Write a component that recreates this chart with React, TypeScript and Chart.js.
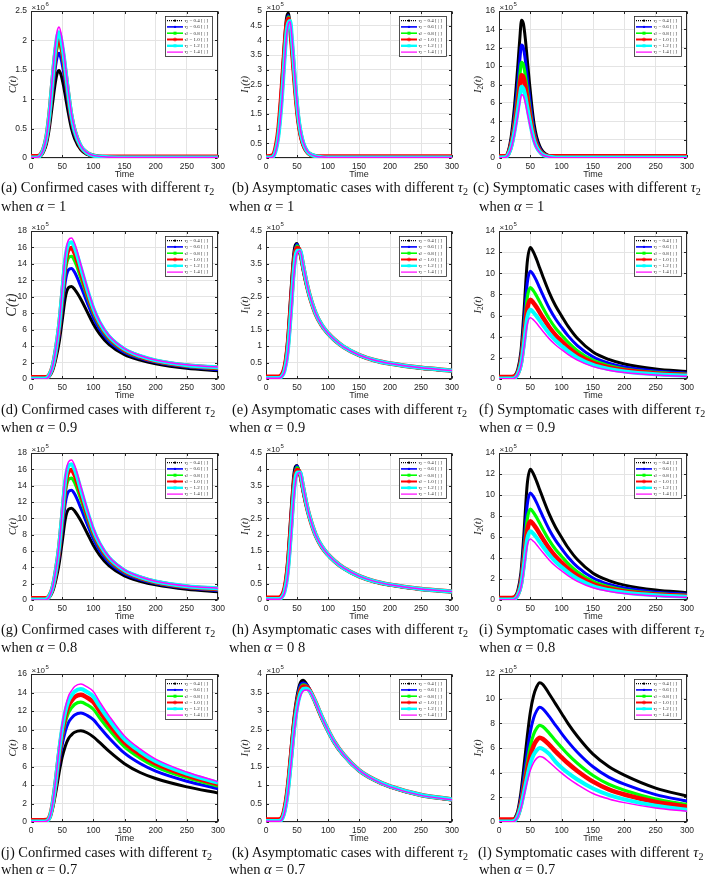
import React, { useEffect, useRef } from "react";
import { Chart, registerables } from "chart.js";

Chart.register(...registerables);

// ---------- time grids ----------
const TIME_ALPHA_1 = [0, 10, 15, 20, 25, 30, 33, 36, 39, 42, 45, 48, 52, 56, 60, 65, 70, 80, 90, 100, 120, 150, 200, 300];
const TIME_ALPHA_09 = [0, 10, 20, 25, 30, 35, 40, 45, 50, 55, 60, 65, 70, 80, 90, 100, 110, 125, 150, 175, 200, 250, 300];
const TIME_ALPHA_07 = [0, 10, 20, 25, 30, 35, 40, 45, 50, 55, 60, 65, 70, 80, 90, 100, 110, 125, 150, 175, 200, 250, 300];

const TAU_LABELS = ["0.4", "0.6", "0.8", "1.0", "1.2", "1.4"];
const X_MAX = 300;
const X_STEP = 50;

// ---------- (a) C(t), alpha = 1, x10^6 ----------
const A_04 = [0.01, 0.01, 0.03, 0.1, 0.25, 0.55, 0.8, 1.05, 1.28, 1.44, 1.49, 1.42, 1.24, 1.0, 0.76, 0.5, 0.33, 0.14, 0.06, 0.03, 0.012, 0.01, 0.01, 0.01];
const A_06 = [0.01, 0.01, 0.035, 0.12, 0.3, 0.66, 0.96, 1.25, 1.53, 1.72, 1.78, 1.7, 1.48, 1.2, 0.91, 0.6, 0.39, 0.17, 0.07, 0.035, 0.014, 0.01, 0.01, 0.01];
const A_08 = [0.01, 0.01, 0.04, 0.13, 0.33, 0.72, 1.05, 1.38, 1.68, 1.89, 1.96, 1.87, 1.63, 1.31, 1.0, 0.66, 0.43, 0.18, 0.08, 0.04, 0.015, 0.01, 0.01, 0.01];
const A_10 = [0.03, 0.03, 0.05, 0.15, 0.36, 0.78, 1.12, 1.46, 1.77, 1.99, 2.06, 1.96, 1.71, 1.38, 1.05, 0.69, 0.46, 0.19, 0.085, 0.04, 0.02, 0.02, 0.02, 0.02];
const A_12 = [0.01, 0.01, 0.045, 0.15, 0.37, 0.8, 1.16, 1.52, 1.84, 2.07, 2.14, 2.04, 1.78, 1.44, 1.09, 0.72, 0.47, 0.2, 0.086, 0.04, 0.017, 0.01, 0.01, 0.01];
const A_14 = [0.01, 0.01, 0.045, 0.15, 0.38, 0.83, 1.2, 1.58, 1.92, 2.16, 2.23, 2.13, 1.86, 1.5, 1.14, 0.75, 0.5, 0.21, 0.09, 0.045, 0.018, 0.01, 0.01, 0.01];

// ---------- (b) I1(t), alpha = 1, x10^5 ----------
const B_04 = [0.03, 0.06, 0.3, 1.0, 2.4, 4.0, 4.75, 4.93, 4.4, 3.6, 2.75, 2.0, 1.2, 0.7, 0.42, 0.22, 0.12, 0.05, 0.03, 0.03, 0.03, 0.03, 0.03, 0.03];
const B_06 = [0.03, 0.05, 0.28, 0.95, 2.25, 3.85, 4.6, 4.85, 4.5, 3.7, 2.85, 2.08, 1.26, 0.74, 0.44, 0.23, 0.12, 0.05, 0.03, 0.03, 0.03, 0.03, 0.03, 0.03];
const B_08 = [0.03, 0.05, 0.25, 0.88, 2.1, 3.7, 4.5, 4.8, 4.55, 3.78, 2.93, 2.15, 1.3, 0.77, 0.46, 0.24, 0.13, 0.05, 0.03, 0.03, 0.03, 0.03, 0.03, 0.03];
const B_10 = [0.05, 0.08, 0.3, 0.95, 2.2, 3.75, 4.5, 4.74, 4.45, 3.72, 2.9, 2.13, 1.3, 0.78, 0.47, 0.25, 0.14, 0.06, 0.05, 0.05, 0.05, 0.05, 0.05, 0.05];
const B_12 = [0.02, 0.03, 0.2, 0.75, 1.85, 3.4, 4.25, 4.6, 4.66, 4.0, 3.15, 2.33, 1.44, 0.86, 0.52, 0.27, 0.15, 0.06, 0.03, 0.02, 0.02, 0.02, 0.02, 0.02];
const B_14 = [0.01, 0.02, 0.17, 0.68, 1.72, 3.25, 4.12, 4.55, 4.64, 4.08, 3.25, 2.42, 1.5, 0.9, 0.55, 0.29, 0.16, 0.06, 0.03, 0.02, 0.02, 0.02, 0.02, 0.02];

// ---------- (c) I2(t), alpha = 1, x10^5 ----------
const C_04 = [0.1, 0.15, 0.8, 2.6, 5.8, 10.0, 12.8, 15.0, 14.6, 13.0, 10.8, 8.6, 5.9, 3.7, 2.3, 1.3, 0.7, 0.25, 0.13, 0.1, 0.1, 0.1, 0.1, 0.1];
const C_06 = [0.1, 0.13, 0.65, 2.13, 4.75, 8.2, 10.5, 12.3, 11.97, 10.66, 8.86, 7.05, 4.84, 3.03, 1.89, 1.07, 0.57, 0.2, 0.11, 0.1, 0.1, 0.1, 0.1, 0.1];
const C_08 = [0.1, 0.12, 0.55, 1.8, 4.02, 6.93, 8.87, 10.4, 10.12, 9.0, 7.48, 5.96, 4.09, 2.56, 1.59, 0.9, 0.49, 0.17, 0.1, 0.1, 0.1, 0.1, 0.1, 0.1];
const C_10 = [0.2, 0.2, 0.5, 1.56, 3.48, 6.0, 7.68, 9.0, 8.76, 7.8, 6.48, 5.16, 3.54, 2.22, 1.38, 0.78, 0.42, 0.2, 0.2, 0.2, 0.2, 0.2, 0.2, 0.2];
const C_12 = [0.05, 0.07, 0.41, 1.34, 3.0, 5.17, 6.62, 7.75, 7.55, 6.72, 5.58, 4.45, 3.05, 1.91, 1.19, 0.67, 0.36, 0.13, 0.06, 0.05, 0.05, 0.05, 0.05, 0.05];
const C_14 = [0.02, 0.05, 0.37, 1.2, 2.67, 4.61, 5.9, 6.92, 6.73, 5.99, 4.98, 3.96, 2.72, 1.71, 1.06, 0.6, 0.32, 0.12, 0.04, 0.02, 0.02, 0.02, 0.02, 0.02];

// ---------- (d)/(g) C(t), alpha = 0.9 / 0.8, x10^5 ----------
const D_04 = [0.1, 0.1, 0.1, 0.15, 0.4, 1.1, 2.5, 4.4, 7.1, 9.9, 11.1, 11.25, 10.9, 9.7, 8.2, 6.7, 5.5, 4.2, 2.95, 2.3, 1.85, 1.3, 1.0];
const D_06 = [0.1, 0.1, 0.1, 0.17, 0.48, 1.31, 2.99, 5.26, 8.48, 11.83, 13.26, 13.44, 12.97, 11.25, 9.31, 7.48, 6.07, 4.61, 3.23, 2.5, 2.02, 1.46, 1.17];
const D_08 = [0.1, 0.1, 0.1, 0.2, 0.53, 1.46, 3.32, 5.84, 9.42, 13.14, 14.73, 14.93, 14.37, 12.3, 10.06, 8.0, 6.46, 4.88, 3.42, 2.64, 2.13, 1.56, 1.28];
const D_10 = [0.2, 0.2, 0.2, 0.22, 0.57, 1.56, 3.54, 6.23, 10.05, 14.02, 15.72, 15.93, 15.32, 13.02, 10.57, 8.36, 6.72, 5.07, 3.54, 2.73, 2.21, 1.63, 1.36];
const D_12 = [0.05, 0.05, 0.05, 0.1, 0.55, 1.63, 3.7, 6.5, 10.49, 14.63, 16.41, 16.63, 16.0, 13.52, 10.93, 8.61, 6.91, 5.2, 3.63, 2.8, 2.26, 1.68, 1.41];
const D_14 = [0, 0, 0, 0.05, 0.5, 1.65, 3.8, 6.7, 10.8, 15.1, 16.9, 17.15, 16.5, 13.9, 11.2, 8.8, 7.05, 5.3, 3.7, 2.85, 2.3, 1.72, 1.45];

// ---------- (e)/(h) I1(t), alpha = 0.9 / 0.8, x10^5 ----------
const E_04 = [0.05, 0.05, 0.05, 0.12, 0.4, 1.2, 2.6, 3.85, 4.12, 3.8, 3.3, 2.87, 2.52, 1.97, 1.62, 1.38, 1.19, 0.97, 0.72, 0.56, 0.46, 0.33, 0.25];
const E_06 = [0.05, 0.05, 0.05, 0.1, 0.36, 1.08, 2.42, 3.72, 4.1, 3.84, 3.34, 2.9, 2.53, 1.98, 1.62, 1.38, 1.19, 0.97, 0.72, 0.56, 0.46, 0.33, 0.25];
const E_08 = [0.05, 0.05, 0.05, 0.1, 0.32, 0.98, 2.25, 3.6, 4.05, 3.87, 3.38, 2.92, 2.54, 1.98, 1.63, 1.38, 1.19, 0.97, 0.72, 0.56, 0.46, 0.33, 0.25];
const E_10 = [0.07, 0.07, 0.07, 0.12, 0.35, 1.0, 2.2, 3.5, 3.98, 3.88, 3.41, 2.94, 2.56, 1.99, 1.63, 1.39, 1.2, 0.98, 0.73, 0.57, 0.47, 0.34, 0.26];
const E_12 = [0.03, 0.03, 0.03, 0.07, 0.26, 0.82, 1.98, 3.3, 3.9, 3.9, 3.44, 2.97, 2.57, 2.0, 1.64, 1.39, 1.2, 0.98, 0.73, 0.57, 0.47, 0.34, 0.26];
const E_14 = [0.02, 0.02, 0.02, 0.06, 0.22, 0.72, 1.82, 3.15, 3.82, 3.9, 3.47, 2.99, 2.58, 2.0, 1.64, 1.39, 1.2, 0.98, 0.73, 0.57, 0.47, 0.34, 0.26];

// ---------- (f)/(i) I2(t), alpha = 0.9 / 0.8, x10^5 ----------
const F_04 = [0.15, 0.15, 0.15, 0.3, 0.9, 2.6, 6.5, 11.0, 12.45, 12.0, 11.3, 10.5, 9.7, 8.2, 6.95, 5.95, 5.0, 3.85, 2.55, 1.85, 1.42, 0.95, 0.7];
const F_06 = [0.12, 0.12, 0.12, 0.25, 0.74, 2.13, 5.33, 9.02, 10.2, 9.84, 9.27, 8.61, 7.95, 6.72, 5.7, 4.88, 4.1, 3.16, 2.09, 1.5, 1.14, 0.75, 0.55];
const F_08 = [0.1, 0.1, 0.1, 0.21, 0.63, 1.81, 4.52, 7.65, 8.65, 8.34, 7.85, 7.3, 6.74, 5.7, 4.83, 4.14, 3.48, 2.68, 1.77, 1.27, 0.95, 0.62, 0.45];
const F_10 = [0.2, 0.2, 0.2, 0.25, 0.54, 1.56, 3.9, 6.6, 7.5, 7.2, 6.78, 6.3, 5.82, 4.92, 4.17, 3.57, 3.0, 2.31, 1.52, 1.09, 0.82, 0.53, 0.38];
const F_12 = [0.05, 0.05, 0.05, 0.1, 0.47, 1.37, 3.42, 5.79, 6.55, 6.31, 5.94, 5.52, 5.1, 4.31, 3.66, 3.13, 2.63, 2.02, 1.33, 0.95, 0.71, 0.45, 0.32];
const F_14 = [0.02, 0.02, 0.02, 0.08, 0.42, 1.21, 3.03, 5.13, 5.8, 5.59, 5.27, 4.89, 4.52, 3.82, 3.24, 2.77, 2.33, 1.78, 1.17, 0.83, 0.62, 0.38, 0.25];

// ---------- (j) C(t), alpha = 0.7, x10^5 ----------
const J_04 = [0.1, 0.1, 0.1, 0.15, 0.5, 1.6, 3.3, 5.3, 7.0, 8.2, 9.0, 9.42, 9.7, 9.86, 9.65, 9.2, 8.6, 7.65, 6.3, 5.35, 4.7, 3.8, 3.14];
const J_06 = [0.1, 0.1, 0.1, 0.15, 0.5, 1.79, 3.87, 6.29, 8.33, 9.8, 10.75, 11.23, 11.58, 11.79, 11.53, 11.06, 10.27, 9.11, 7.44, 6.32, 5.5, 4.41, 3.6];
const J_08 = [0.1, 0.1, 0.1, 0.15, 0.5, 1.91, 4.22, 6.89, 9.14, 10.76, 11.81, 12.34, 12.72, 12.95, 12.67, 12.19, 11.28, 10.0, 8.13, 6.91, 5.98, 4.78, 3.88];
const J_10 = [0.2, 0.2, 0.2, 0.22, 0.55, 1.99, 4.46, 7.3, 9.7, 11.43, 12.54, 13.1, 13.51, 13.76, 13.46, 12.97, 11.99, 10.61, 8.61, 7.31, 6.32, 5.03, 4.08];
const J_12 = [0.05, 0.05, 0.05, 0.1, 0.5, 2.05, 4.64, 7.61, 10.12, 11.94, 13.09, 13.68, 14.11, 14.37, 14.06, 13.56, 12.52, 11.08, 8.97, 7.62, 6.57, 5.22, 4.23];
const J_14 = [0.02, 0.02, 0.02, 0.08, 0.5, 2.1, 4.8, 7.9, 10.5, 12.4, 13.6, 14.2, 14.65, 14.93, 14.6, 14.1, 13.0, 11.5, 9.3, 7.9, 6.8, 5.4, 4.36];

// ---------- (k) I1(t), alpha = 0.7, x10^5 ----------
const K_04 = [0.05, 0.05, 0.05, 0.1, 0.4, 1.0, 1.9, 2.8, 3.4, 3.75, 3.83, 3.74, 3.6, 3.2, 2.8, 2.45, 2.15, 1.8, 1.39, 1.13, 0.95, 0.72, 0.6];
const K_06 = [0.05, 0.05, 0.05, 0.09, 0.37, 0.95, 1.82, 2.7, 3.32, 3.68, 3.76, 3.72, 3.6, 3.21, 2.81, 2.46, 2.15, 1.8, 1.39, 1.13, 0.95, 0.72, 0.6];
const K_08 = [0.05, 0.05, 0.05, 0.08, 0.34, 0.9, 1.75, 2.62, 3.25, 3.6, 3.71, 3.68, 3.58, 3.22, 2.82, 2.47, 2.16, 1.81, 1.39, 1.13, 0.95, 0.72, 0.6];
const K_10 = [0.07, 0.07, 0.07, 0.1, 0.36, 0.9, 1.72, 2.57, 3.18, 3.53, 3.66, 3.65, 3.57, 3.23, 2.83, 2.48, 2.17, 1.82, 1.4, 1.14, 0.96, 0.73, 0.61];
const K_12 = [0.03, 0.03, 0.03, 0.06, 0.28, 0.78, 1.58, 2.45, 3.08, 3.45, 3.6, 3.61, 3.55, 3.23, 2.84, 2.48, 2.17, 1.82, 1.4, 1.14, 0.96, 0.73, 0.61];
const K_14 = [0.02, 0.02, 0.02, 0.05, 0.25, 0.72, 1.5, 2.35, 2.98, 3.38, 3.54, 3.57, 3.54, 3.22, 2.83, 2.48, 2.17, 1.82, 1.4, 1.13, 0.95, 0.72, 0.6];

// ---------- (l) I2(t), alpha = 0.7, x10^5 ----------
const L_04 = [0.15, 0.15, 0.15, 0.3, 0.9, 2.4, 4.6, 6.9, 8.9, 10.2, 10.95, 11.3, 11.15, 10.4, 9.6, 8.8, 8.0, 6.95, 5.5, 4.5, 3.8, 2.75, 2.1];
const L_06 = [0.12, 0.12, 0.12, 0.25, 0.74, 1.98, 3.79, 5.68, 7.32, 8.39, 9.01, 9.3, 9.18, 8.56, 7.86, 7.17, 6.52, 5.66, 4.48, 3.64, 3.07, 2.22, 1.69];
const L_08 = [0.1, 0.1, 0.1, 0.21, 0.62, 1.66, 3.19, 4.78, 6.17, 7.07, 7.59, 7.83, 7.73, 7.21, 6.6, 6.03, 5.48, 4.76, 3.77, 3.06, 2.58, 1.87, 1.42];
const L_10 = [0.2, 0.2, 0.2, 0.22, 0.54, 1.45, 2.78, 4.17, 5.38, 6.16, 6.61, 6.83, 6.73, 6.28, 5.73, 5.24, 4.76, 4.14, 3.27, 2.65, 2.23, 1.62, 1.23];
const L_12 = [0.05, 0.05, 0.05, 0.1, 0.48, 1.27, 2.44, 3.66, 4.73, 5.42, 5.81, 6.0, 5.92, 5.52, 4.9, 4.4, 3.98, 3.45, 2.72, 2.2, 1.83, 1.32, 1.0];
const L_14 = [0.02, 0.02, 0.02, 0.08, 0.42, 1.13, 2.17, 3.25, 4.19, 4.8, 5.16, 5.32, 5.25, 4.85, 4.4, 3.96, 3.56, 3.04, 2.31, 1.87, 1.57, 1.14, 0.87];

// ---------- styles ----------
const SERIES_COLORS = ["#000000", "#0000ff", "#00ff00", "#ff0000", "#00ffff", "#ff00ff"];
const SERIES_WIDTHS = [3, 3, 3.2, 4.5, 4, 1.5];
const AXIS_COLOR = "#262626";
const GRID_COLOR = "#e4e4e4";
const SANS = "'Liberation Sans', Arial, sans-serif";
const SERIF = "'Liberation Serif', 'Times New Roman', serif";

// geometry
const COL_X = [0, 235, 470];
const COL_W = [235, 235, 236];
const PLOT_L = [31, 266, 499];
const PLOT_R = [218, 452, 687];
const ROW_TOP = [11, 231, 453, 674];
const ROW_BOT = [158, 379, 600, 822];
const CAP_Y = [[187, 206], [409, 427], [629, 647], [852, 869]];
const CAP1_X = [[1, 232, 473], [1, 232, 479], [1, 232, 479], [1, 232, 478]];
const CAP2_X = [1, 229, 479];

type PanelSpec = {
  letter: string;
  row: number;
  col: number;
  time: number[];
  series: number[][];
  yMax: number;
  yStep: number;
  exp: string;
  yLabel: "C" | "I1" | "I2";
  bigLabel?: boolean;
  kind: string;
  alpha: string;
};

const PANELS: PanelSpec[] = [
  { letter: "a", row: 0, col: 0, time: TIME_ALPHA_1, series: [A_04, A_06, A_08, A_10, A_12, A_14], yMax: 2.5, yStep: 0.5, exp: "6", yLabel: "C", kind: "Confirmed", alpha: "1" },
  { letter: "b", row: 0, col: 1, time: TIME_ALPHA_1, series: [B_04, B_06, B_08, B_10, B_12, B_14], yMax: 5, yStep: 0.5, exp: "5", yLabel: "I1", kind: "Asymptomatic", alpha: "1" },
  { letter: "c", row: 0, col: 2, time: TIME_ALPHA_1, series: [C_04, C_06, C_08, C_10, C_12, C_14], yMax: 16, yStep: 2, exp: "5", yLabel: "I2", kind: "Symptomatic", alpha: "1" },
  { letter: "d", row: 1, col: 0, time: TIME_ALPHA_09, series: [D_04, D_06, D_08, D_10, D_12, D_14], yMax: 18, yStep: 2, exp: "5", yLabel: "C", bigLabel: true, kind: "Confirmed", alpha: "0.9" },
  { letter: "e", row: 1, col: 1, time: TIME_ALPHA_09, series: [E_04, E_06, E_08, E_10, E_12, E_14], yMax: 4.5, yStep: 0.5, exp: "5", yLabel: "I1", kind: "Asymptomatic", alpha: "0.9" },
  { letter: "f", row: 1, col: 2, time: TIME_ALPHA_09, series: [F_04, F_06, F_08, F_10, F_12, F_14], yMax: 14, yStep: 2, exp: "5", yLabel: "I2", kind: "Symptomatic", alpha: "0.9" },
  { letter: "g", row: 2, col: 0, time: TIME_ALPHA_09, series: [D_04, D_06, D_08, D_10, D_12, D_14], yMax: 18, yStep: 2, exp: "5", yLabel: "C", kind: "Confirmed", alpha: "0.8" },
  { letter: "h", row: 2, col: 1, time: TIME_ALPHA_09, series: [E_04, E_06, E_08, E_10, E_12, E_14], yMax: 4.5, yStep: 0.5, exp: "5", yLabel: "I1", kind: "Asymptomatic", alpha: "0 8" },
  { letter: "i", row: 2, col: 2, time: TIME_ALPHA_09, series: [F_04, F_06, F_08, F_10, F_12, F_14], yMax: 14, yStep: 2, exp: "5", yLabel: "I2", kind: "Symptomatic", alpha: "0.8" },
  { letter: "j", row: 3, col: 0, time: TIME_ALPHA_07, series: [J_04, J_06, J_08, J_10, J_12, J_14], yMax: 16, yStep: 2, exp: "5", yLabel: "C", kind: "Confirmed", alpha: "0.7" },
  { letter: "k", row: 3, col: 1, time: TIME_ALPHA_07, series: [K_04, K_06, K_08, K_10, K_12, K_14], yMax: 4, yStep: 0.5, exp: "5", yLabel: "I1", kind: "Asymptomatic", alpha: "0.7" },
  { letter: "l", row: 3, col: 2, time: TIME_ALPHA_07, series: [L_04, L_06, L_08, L_10, L_12, L_14], yMax: 12, yStep: 2, exp: "5", yLabel: "I2", kind: "Symptomatic", alpha: "0.7" },
];

function geometry(p: PanelSpec) {
  const padTop = p.row === 0 ? 11 : 15;
  const left = COL_X[p.col];
  const width = COL_W[p.col];
  const top = ROW_TOP[p.row] - padTop;
  const height = ROW_BOT[p.row] - ROW_TOP[p.row] + padTop + 24;
  return { padTop, left, width, top, height, yAxisW: PLOT_L[p.col] - left, padRight: width - (PLOT_R[p.col] - left) };
}

function drawYTitle(ctx: CanvasRenderingContext2D, p: PanelSpec, cx: number, cy: number) {
  const size = p.bigLabel ? 14.5 : 10.5;
  const parts: { t: string; it: boolean; sub: boolean; w?: number }[] =
    p.yLabel === "C"
      ? [{ t: "C(t)", it: true, sub: false }]
      : [
          { t: "I", it: true, sub: false },
          { t: p.yLabel === "I1" ? "1" : "2", it: false, sub: true },
          { t: "(t)", it: true, sub: false },
        ];
  const fontOf = (pt: { it: boolean; sub: boolean }) => `${pt.it ? "italic " : ""}${pt.sub ? size * 0.7 : size}px ${SERIF}`;
  ctx.save();
  ctx.translate(cx, cy);
  ctx.rotate(-Math.PI / 2);
  let total = 0;
  parts.forEach((pt) => {
    ctx.font = fontOf(pt);
    pt.w = ctx.measureText(pt.t).width;
    total += pt.w;
  });
  let x = -total / 2;
  ctx.fillStyle = AXIS_COLOR;
  ctx.textAlign = "left";
  ctx.textBaseline = "alphabetic";
  parts.forEach((pt) => {
    ctx.font = fontOf(pt);
    ctx.fillText(pt.t, x, size * 0.35 + (pt.sub ? size * 0.22 : 0));
    x += pt.w || 0;
  });
  ctx.restore();
}

function drawLegend(ctx: CanvasRenderingContext2D, right: number, top: number) {
  const bw = 47;
  const bh = 40;
  const bx = Math.round(right - 6 - bw);
  const by = Math.round(top + 5);
  ctx.save();
  ctx.fillStyle = "#ffffff";
  ctx.fillRect(bx, by, bw, bh);
  ctx.strokeStyle = AXIS_COLOR;
  ctx.lineWidth = 0.8;
  ctx.strokeRect(bx + 0.5, by + 0.5, bw, bh);
  for (let i = 0; i < 6; i++) {
    const cy = by + 4.6 + i * 6.3;
    const x0 = bx + 2;
    const x1 = bx + 18;
    const mx = (x0 + x1) / 2;
    ctx.strokeStyle = SERIES_COLORS[i];
    ctx.lineWidth = [1.2, 1.6, 1.6, 2, 2.4, 1.2][i];
    ctx.setLineDash(i === 0 ? [1, 1] : []);
    ctx.beginPath();
    ctx.moveTo(x0, cy);
    ctx.lineTo(x1, cy);
    ctx.stroke();
    ctx.setLineDash([]);
    ctx.fillStyle = SERIES_COLORS[i];
    if (i === 0 || i === 1) {
      ctx.beginPath();
      ctx.arc(mx, cy, 1.2, 0, Math.PI * 2);
      ctx.fill();
    } else if (i === 2 || i === 4) {
      ctx.fillRect(mx - 1.5, cy - 1.5, 3, 3);
    } else if (i === 3) {
      ctx.lineWidth = 0.8;
      ctx.beginPath();
      for (let k = 0; k < 4; k++) {
        const a = (k * Math.PI) / 4;
        ctx.moveTo(mx - 2 * Math.cos(a), cy - 2 * Math.sin(a));
        ctx.lineTo(mx + 2 * Math.cos(a), cy + 2 * Math.sin(a));
      }
      ctx.stroke();
    }
    ctx.fillStyle = AXIS_COLOR;
    ctx.font = `italic 5px ${SERIF}`;
    ctx.textBaseline = "middle";
    ctx.textAlign = "left";
    const tx = x1 + 1.5;
    ctx.fillText("τ", tx, cy);
    const tw = ctx.measureText("τ").width;
    ctx.font = `3.6px ${SERIF}`;
    ctx.fillText("2", tx + tw, cy + 1);
    ctx.font = `5px ${SERIF}`;
    ctx.fillText(" = " + TAU_LABELS[i] + " [ | ]", tx + tw + 2, cy);
  }
  ctx.restore();
}

function makeFramePlugin(p: PanelSpec) {
  return {
    id: "frame_" + p.letter,
    beforeDatasetsDraw(chart: any) {
      const { ctx, chartArea } = chart;
      const xs = chart.scales.x;
      const ys = chart.scales.y;
      const L = Math.round(chartArea.left) + 0.5;
      const T = Math.round(chartArea.top) + 0.5;
      const R = Math.round(chartArea.right) - 0.5;
      const B = Math.round(chartArea.bottom) - 0.5;
      ctx.save();
      ctx.strokeStyle = AXIS_COLOR;
      ctx.lineWidth = 1;
      ctx.strokeRect(L, T, R - L, B - T);
      ctx.beginPath();
      xs.ticks.forEach((t: any) => {
        const px = Math.round(xs.getPixelForValue(t.value)) + 0.5;
        ctx.moveTo(px, B);
        ctx.lineTo(px, B - 2.5);
        ctx.moveTo(px, T);
        ctx.lineTo(px, T + 2.5);
      });
      ys.ticks.forEach((t: any) => {
        const py = Math.round(ys.getPixelForValue(t.value)) + 0.5;
        ctx.moveTo(L, py);
        ctx.lineTo(L + 2.5, py);
        ctx.moveTo(R, py);
        ctx.lineTo(R - 2.5, py);
      });
      ctx.stroke();
      ctx.restore();
    },
    afterDraw(chart: any) {
      const { ctx, chartArea } = chart;
      const { left, top, right, bottom } = chartArea;
      ctx.save();
      ctx.fillStyle = AXIS_COLOR;
      ctx.textAlign = "left";
      ctx.textBaseline = "alphabetic";
      ctx.font = `8px ${SANS}`;
      ctx.fillText("×10", left + 0.5, top - 1.5);
      const w = ctx.measureText("×10").width;
      ctx.font = `6px ${SANS}`;
      ctx.fillText(p.exp, left + 1 + w, top - 5);
      ctx.font = `9px ${SANS}`;
      ctx.textAlign = "center";
      ctx.textBaseline = "middle";
      ctx.fillText("Time", (left + right) / 2, bottom + 17);
      ctx.restore();
      const off = p.yLabel === "C" ? (p.bigLabel ? 20.5 : 19) : 21.5;
      drawYTitle(ctx, p, left - off, (top + bottom) / 2);
      drawLegend(ctx, right, top);
    },
  };
}

const fmtTick = (v: number | string) => String(Math.round(Number(v) * 100) / 100);

function PanelChart({ p }: { p: PanelSpec }) {
  const ref = useRef<HTMLCanvasElement | null>(null);
  const g = geometry(p);
  useEffect(() => {
    if (!ref.current) return;
    const datasets = p.series.map((vals, i) => ({
      label: "τ2 = " + TAU_LABELS[i],
      data: p.time.map((t, k) => ({ x: t, y: vals[k] })),
      borderColor: SERIES_COLORS[i],
      backgroundColor: SERIES_COLORS[i],
      borderWidth: SERIES_WIDTHS[i],
      pointRadius: 0,
      fill: false,
      cubicInterpolationMode: "monotone" as const,
      order: 5 - i,
    }));
    const tickFont = { family: SANS, size: 8.5 };
    const chart = new Chart(ref.current, {
      type: "line",
      data: { datasets },
      plugins: [makeFramePlugin(p)],
      options: {
        animation: false,
        responsive: false,
        maintainAspectRatio: false,
        events: [],
        layout: { padding: { left: 0, top: g.padTop, right: g.padRight, bottom: 0 } },
        plugins: { legend: { display: false }, tooltip: { enabled: false } },
        scales: {
          x: {
            type: "linear",
            min: 0,
            max: X_MAX,
            ticks: { stepSize: X_STEP, autoSkip: false, maxRotation: 0, color: AXIS_COLOR, font: tickFont, padding: 3.5, callback: fmtTick },
            grid: { color: GRID_COLOR, lineWidth: 1, drawTicks: false },
            border: { display: false },
            afterFit: (s: any) => {
              s.height = 24;
            },
          },
          y: {
            type: "linear",
            min: 0,
            max: p.yMax,
            ticks: { stepSize: p.yStep, autoSkip: false, color: AXIS_COLOR, font: tickFont, padding: 4, callback: fmtTick },
            grid: { color: GRID_COLOR, lineWidth: 1, drawTicks: false },
            border: { display: false },
            afterFit: (s: any) => {
              s.width = g.yAxisW;
            },
          },
        },
      } as any,
    });
    return () => chart.destroy();
  }, []);
  return (
    <div style={{ position: "absolute", left: g.left, top: g.top, width: g.width, height: g.height }}>
      <canvas ref={ref} width={g.width} height={g.height} style={{ width: g.width, height: g.height, display: "block" }} />
    </div>
  );
}

function Caption({ p }: { p: PanelSpec }) {
  const [y1, y2] = CAP_Y[p.row];
  const base: React.CSSProperties = {
    position: "absolute",
    height: 18,
    lineHeight: "18px",
    fontFamily: SERIF,
    fontSize: 14.5,
    whiteSpace: "nowrap",
    color: "#111",
  };
  return (
    <>
      <div style={{ ...base, left: CAP1_X[p.row][p.col], top: y1 - 9 }}>
        ({p.letter}) {p.kind} cases with different <i>τ</i>
        <span style={{ fontSize: 10, position: "relative", top: 3 }}>2</span>
      </div>
      <div style={{ ...base, left: CAP2_X[p.col], top: y2 - 9 }}>
        when <i>α</i> = {p.alpha}
      </div>
    </>
  );
}

export default function App() {
  useEffect(() => {
    document.body.style.margin = "0";
  }, []);
  return (
    <div style={{ position: "absolute", left: 0, top: 0, width: 706, height: 874, background: "#fff", overflow: "hidden" }}>
      {PANELS.map((p) => (
        <PanelChart key={p.letter} p={p} />
      ))}
      {PANELS.map((p) => (
        <Caption key={"cap" + p.letter} p={p} />
      ))}
    </div>
  );
}
